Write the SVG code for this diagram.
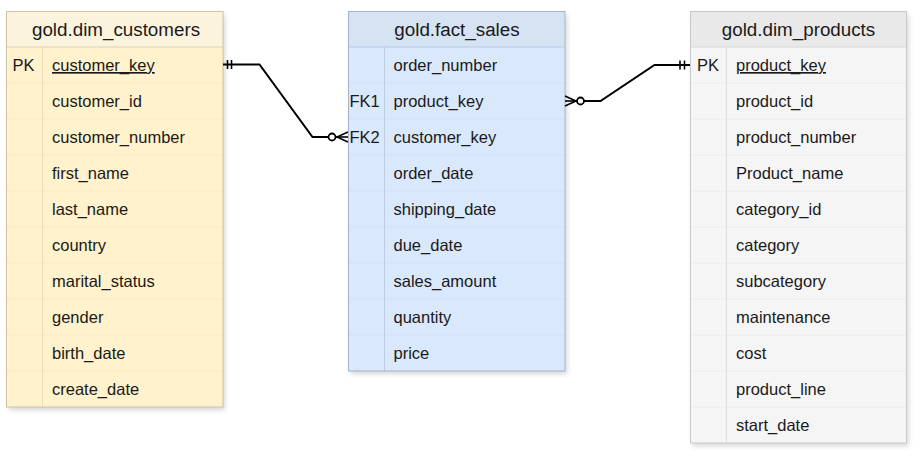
<svg xmlns="http://www.w3.org/2000/svg" width="922" height="460" viewBox="0 0 922 460">
<defs>
<filter id="sh" x="-10%" y="-10%" width="125%" height="125%">
<feDropShadow dx="2" dy="3" stdDeviation="2.5" flood-color="#000" flood-opacity="0.16"/>
</filter>
<style>
text{font-family:"Liberation Sans",Helvetica,Arial,sans-serif;fill:#1a1a1a}
.h{font-size:18.8px;text-anchor:middle}
.r{font-size:16.5px}
.u{text-decoration:underline}
.ln{fill:none;stroke:#000;stroke-width:2}
.mk{fill:none;stroke:#000;stroke-width:1.6}
</style>
</defs>
<rect width="922" height="460" fill="#fff"/>

<g id="dim_customers">
<rect x="6.5" y="11.5" width="216.5" height="395.5" fill="#fff2cc" filter="url(#sh)"/>
<rect x="6.5" y="11.5" width="216.5" height="35.5" fill="#fcf3de"/>
<g stroke="#f8ebc6" stroke-width="1">
<line x1="6.5" y1="83" x2="223" y2="83"/><line x1="6.5" y1="119" x2="223" y2="119"/><line x1="6.5" y1="155" x2="223" y2="155"/><line x1="6.5" y1="191" x2="223" y2="191"/><line x1="6.5" y1="227" x2="223" y2="227"/><line x1="6.5" y1="263" x2="223" y2="263"/><line x1="6.5" y1="299" x2="223" y2="299"/><line x1="6.5" y1="335" x2="223" y2="335"/><line x1="6.5" y1="371" x2="223" y2="371"/>
</g>
<line x1="42.5" y1="47" x2="42.5" y2="407" stroke="#ecddb4"/>
<line x1="6.5" y1="47" x2="223" y2="47" stroke="#ddd0ad"/>
<rect x="6.5" y="11.5" width="216.5" height="395.5" fill="none" stroke="#cfc3a5"/>
<text class="h" x="116" y="36">gold.dim_customers</text>
<text class="r" x="12.5" y="71">PK</text>
<text class="r u" x="52" y="71">customer_key</text>
<text class="r" x="52" y="107">customer_id</text>
<text class="r" x="52" y="143">customer_number</text>
<text class="r" x="52" y="179">first_name</text>
<text class="r" x="52" y="215">last_name</text>
<text class="r" x="52" y="251">country</text>
<text class="r" x="52" y="287">marital_status</text>
<text class="r" x="52" y="323">gender</text>
<text class="r" x="52" y="359">birth_date</text>
<text class="r" x="52" y="395">create_date</text>
</g>

<g id="fact_sales">
<rect x="348.5" y="11.5" width="216.5" height="359.5" fill="#dae8fc" filter="url(#sh)"/>
<rect x="348.5" y="11.5" width="216.5" height="35.5" fill="#d6e3f3"/>
<g stroke="#d1e0f4" stroke-width="1">
<line x1="348.5" y1="83" x2="565" y2="83"/><line x1="348.5" y1="119" x2="565" y2="119"/><line x1="348.5" y1="155" x2="565" y2="155"/><line x1="348.5" y1="191" x2="565" y2="191"/><line x1="348.5" y1="227" x2="565" y2="227"/><line x1="348.5" y1="263" x2="565" y2="263"/><line x1="348.5" y1="299" x2="565" y2="299"/><line x1="348.5" y1="335" x2="565" y2="335"/>
</g>
<line x1="384.5" y1="47" x2="384.5" y2="371" stroke="#bccde3"/>
<line x1="348.5" y1="47" x2="565" y2="47" stroke="#b8c9df"/>
<rect x="348.5" y="11.5" width="216.5" height="359.5" fill="none" stroke="#a3b6cf"/>
<text class="h" x="457" y="36">gold.fact_sales</text>
<text class="r" x="349.5" y="107">FK1</text>
<text class="r" x="393.5" y="71">order_number</text>
<text class="r" x="393.5" y="107">product_key</text>
<text class="r" x="349.5" y="143">FK2</text>
<text class="r" x="393.5" y="143">customer_key</text>
<text class="r" x="393.5" y="179">order_date</text>
<text class="r" x="393.5" y="215">shipping_date</text>
<text class="r" x="393.5" y="251">due_date</text>
<text class="r" x="393.5" y="287">sales_amount</text>
<text class="r" x="393.5" y="323">quantity</text>
<text class="r" x="393.5" y="359">price</text>
</g>

<g id="dim_products">
<rect x="690.5" y="11.5" width="216" height="431.5" fill="#f5f5f5" filter="url(#sh)"/>
<rect x="690.5" y="11.5" width="216" height="35.5" fill="#e9e9e9"/>
<g stroke="#ececec" stroke-width="1">
<line x1="690.5" y1="83" x2="906.5" y2="83"/><line x1="690.5" y1="119" x2="906.5" y2="119"/><line x1="690.5" y1="155" x2="906.5" y2="155"/><line x1="690.5" y1="191" x2="906.5" y2="191"/><line x1="690.5" y1="227" x2="906.5" y2="227"/><line x1="690.5" y1="263" x2="906.5" y2="263"/><line x1="690.5" y1="299" x2="906.5" y2="299"/><line x1="690.5" y1="335" x2="906.5" y2="335"/><line x1="690.5" y1="371" x2="906.5" y2="371"/><line x1="690.5" y1="407" x2="906.5" y2="407"/>
</g>
<line x1="726.5" y1="47" x2="726.5" y2="443" stroke="#dedede"/>
<line x1="690.5" y1="47" x2="906.5" y2="47" stroke="#d8d8d8"/>
<rect x="690.5" y="11.5" width="216" height="431.5" fill="none" stroke="#c9c9c9"/>
<text class="h" x="798.5" y="36">gold.dim_products</text>
<text class="r" x="697" y="71">PK</text>
<text class="r u" x="736" y="71">product_key</text>
<text class="r" x="736" y="107">product_id</text>
<text class="r" x="736" y="143">product_number</text>
<text class="r" x="736" y="179">Product_name</text>
<text class="r" x="736" y="215">category_id</text>
<text class="r" x="736" y="251">category</text>
<text class="r" x="736" y="287">subcategory</text>
<text class="r" x="736" y="323">maintenance</text>
<text class="r" x="736" y="359">cost</text>
<text class="r" x="736" y="395">product_line</text>
<text class="r" x="736" y="431">start_date</text>
</g>

<g id="connectors">
<g id="c1">
<polyline class="ln" points="223,64.5 259.5,64.5 312.5,137 328.5,137"/>
<line class="mk" x1="227.5" y1="60" x2="227.5" y2="69"/>
<line class="mk" x1="231.5" y1="60" x2="231.5" y2="69"/>
<circle cx="332" cy="137" r="3.5" fill="#fff" stroke="#000" stroke-width="1.8"/>
<polyline class="mk" points="348,132 337,137 348,142"/>
<line class="mk" x1="335.5" y1="137" x2="348" y2="137"/>
</g>
<g id="c2">
<polyline class="ln" points="690,65 654.5,65 600.5,101 584,101"/>
<line class="mk" x1="680" y1="60.5" x2="680" y2="69.5"/>
<line class="mk" x1="684.5" y1="60.5" x2="684.5" y2="69.5"/>
<circle cx="580.5" cy="101" r="3.5" fill="#fff" stroke="#000" stroke-width="1.8"/>
<polyline class="mk" points="565,96 576,101 565,106"/>
<line class="mk" x1="565" y1="101" x2="577" y2="101"/>
</g>
</g>
</svg>
